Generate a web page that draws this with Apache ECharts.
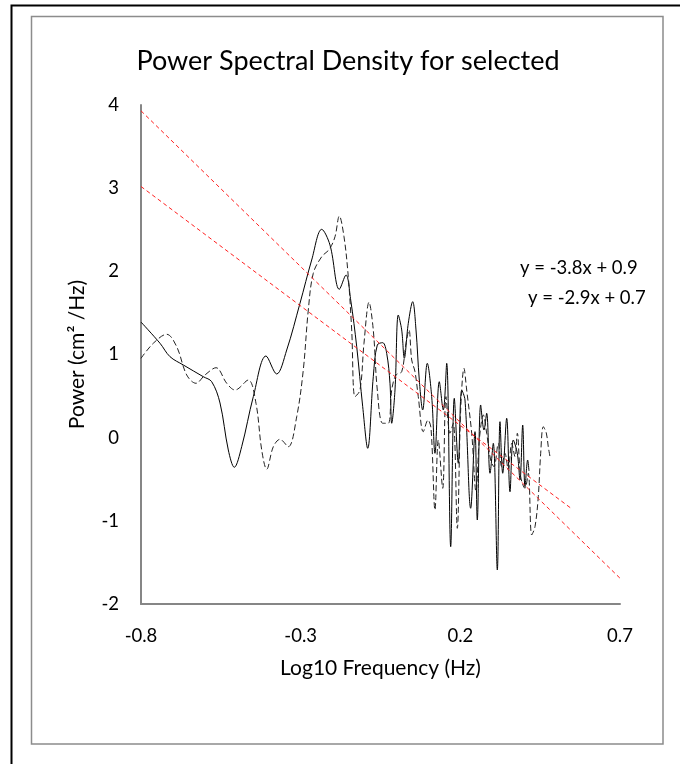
<!DOCTYPE html>
<html>
<head>
<meta charset="utf-8">
<script src="https://cdn.jsdelivr.net/npm/echarts@6/dist/echarts.min.js"></script>
<style>
  html, body { margin: 0; padding: 0; background: #fff; }
  #chart { width: 680px; height: 764px; }
</style>
</head>
<body>
<div id="chart"></div>
<script>
// log10 frequency / power
const solidFreq = [-0.8, -0.7405, -0.7092, -0.6675, -0.6049, -0.5786, -0.5526, -0.5266, -0.5078, -0.4847,
  -0.4483, -0.4086, -0.3751, -0.3437, -0.3021, -0.2655, -0.2341, -0.2082, -0.179, -0.158,
  -0.1433, -0.1245, -0.1057, -0.0901, -0.0726, -0.06, -0.0431, -0.0306, -0.0203, -0.0149,
  -0.0046, 0.0057, 0.0164, 0.0245, 0.037, 0.0508, 0.0612, 0.0715, 0.0821, 0.0965,
  0.1103, 0.1206, 0.1341, 0.1466, 0.1573, 0.1698, 0.1811, 0.1936, 0.2043, 0.2146,
  0.2324, 0.2459, 0.2531, 0.2637, 0.2741, 0.2825, 0.2929, 0.3032, 0.3158, 0.3242,
  0.3327, 0.3452, 0.3555, 0.3658, 0.3784, 0.3868, 0.3953, 0.4025, 0.4109, 0.415];
const solidPower = [1.39, 1.135, 0.974, 0.874, 0.733, 0.673, 0.417, -0.148, -0.356, -0.109,
  0.493, 0.982, 0.766, 1.054, 1.616, 2.136, 2.505, 2.317, 1.784, 1.956,
  1.655, 1.094, 0.372, -0.128, 0.733, 1.114, 1.142, 1.014, 0.654, 0.173,
  0.573, 1.475, 1.295, 0.954, 1.375, 1.635, 1.295, 0.693, 0.333, 0.894,
  0.493, -0.188, 0.673, 0.333, 0.894, -1.311, 0.473, -0.308, 0.573, 0.453,
  -0.849, 0.072, -0.99, 0.393, 0.092, 0.293, -0.428, -0.068, -1.591, 0.192,
  -0.428, 0.233, -0.65, -0.028, -0.188, -0.509, 0.152, -0.59, -0.269, -0.4];

const dashedFreq = [-0.8, -0.7615, -0.7195, -0.6882, -0.6569, -0.6278, -0.5996, -0.5651, -0.5316, -0.5056,
  -0.464, -0.4399, -0.422, -0.4064, -0.3857, -0.3647, -0.3387, -0.3124, -0.2918, -0.2761,
  -0.2605, -0.2341, -0.2103, -0.1925, -0.179, -0.1643, -0.1509, -0.1402, -0.1299, -0.1142,
  -0.1017, -0.086, -0.0726, -0.06, -0.0431, -0.0256, -0.0149, -0.0015, 0.0164, 0.0298,
  0.0392, 0.0477, 0.058, 0.0683, 0.084, 0.0987, 0.1081, 0.1206, 0.131, 0.1448,
  0.1551, 0.1676, 0.178, 0.1905, 0.2011, 0.2115, 0.2199, 0.2356, 0.2491, 0.2594,
  0.2719, 0.2825, 0.2951, 0.3054, 0.3189, 0.3295, 0.3398, 0.3502, 0.3608, 0.3712,
  0.3784, 0.389, 0.4025, 0.4128, 0.4235, 0.4338, 0.4441, 0.4516, 0.4598, 0.4692,
  0.4754, 0.4808];
const dashedPower = [0.954, 1.135, 1.243, 1.094, 0.754, 0.654, 0.754, 0.841, 0.654, 0.573,
  0.693, 0.413, -0.148, -0.38, -0.109, -0.02, -0.109, 0.252, 0.814, 1.535,
  1.976, 2.176, 2.265, 2.416, 2.665, 2.416, 1.936, 1.295, 0.493, 0.573,
  1.135, 1.628, 1.295, 0.573, 0.173, 0.173, 0.573, 0.754, 0.793, 1.135,
  1.295, 0.934, 0.793, 0.493, 0.072, 0.212, 0.116, -0.87, -0.028, -0.609,
  0.493, 0.053, 0.173, -1.09, 0.333, 0.834, 0.573, 0.053, -0.65, -0.028,
  0.273, 0.053, -0.269, -0.349, -0.068, -0.349, -0.188, -0.389, -0.068, -0.229,
  0.053, -0.469, -0.609, -0.428, -1.17, -1.071, -0.71, -0.188, 0.132, 0.056,
  -0.109, -0.229];

// trend line end points
const trendSteep = [[-0.8, 3.93], [0.7, -1.69]];
const trendFlat = [[-0.8, 3.02], [0.547, -0.85]];
const trendLabels = ["y = -3.8x + 0.9", "y = -2.9x + 0.7"];

const xTicks = [-0.8, -0.3, 0.2, 0.7];

const zip = (xs, ys) => xs.map((x, i) => [x, ys[i]]);

const font = "Lato, 'Open Sans', sans-serif";
const axisGray = "#868686";

const chart = echarts.init(document.getElementById("chart"));

chart.setOption({
  animation: false,
  backgroundColor: "#fff",
  title: {
    text: "Power Spectral Density for selected",
    left: 343,
    top: 43,
    textAlign: "center",
    textStyle: { fontFamily: font, fontSize: 27, fontWeight: "normal", color: "#000" },
  },
  graphic: [
    {
      type: "rect",
      shape: { x: 11.5, y: 5.5, width: 720, height: 800 },
      style: { fill: "none", stroke: "#000", lineWidth: 2 },
      silent: true,
    },
    {
      type: "rect",
      shape: { x: 31.5, y: 16.5, width: 631.5, height: 727.5 },
      style: { fill: "none", stroke: "#8c8c8c", lineWidth: 1.5 },
      silent: true,
    },
    {
      type: "text",
      left: 520,
      top: 259,
      style: { text: trendLabels[0], fontFamily: font, fontSize: 18.5, fill: "#000" },
    },
    {
      type: "text",
      left: 528,
      top: 289,
      style: { text: trendLabels[1], fontFamily: font, fontSize: 18.5, fill: "#000" },
    },
  ],
  grid: {
    left: 141,
    top: 105,
    width: 479,
    height: 499,
    containLabel: false,
  },
  xAxis: {
    type: "value",
    min: -0.8,
    max: 0.7,
    name: "Log10 Frequency (Hz)",
    nameLocation: "middle",
    nameGap: 54,
    nameTextStyle: { fontFamily: font, fontSize: 21, color: "#000" },
    axisLine: { onZero: false, lineStyle: { color: axisGray, width: 2 } },
    axisTick: { show: false },
    splitLine: { show: false },
    axisLabel: {
      customValues: xTicks,
      margin: 23,
      fontFamily: font,
      fontSize: 18.5,
      color: "#000",
      formatter: (v) => v.toFixed(1),
    },
  },
  yAxis: {
    type: "value",
    min: -2,
    max: 4,
    interval: 1,
    name: "Power (cm² /Hz)",
    nameLocation: "middle",
    nameGap: 53,
    nameTextStyle: { fontFamily: font, fontSize: 21, color: "#000" },
    axisLine: { show: true, onZero: false, lineStyle: { color: axisGray, width: 2 } },
    axisTick: { show: false },
    splitLine: { show: false },
    axisLabel: { margin: 22, fontFamily: font, fontSize: 18.5, color: "#000" },
  },
  series: [
    {
      name: "solid",
      type: "line",
      data: zip(solidFreq, solidPower),
      smooth: 0.35,
      showSymbol: false,
      lineStyle: { color: "#000", width: 1 },
    },
    {
      name: "dashed",
      type: "line",
      data: zip(dashedFreq, dashedPower),
      smooth: 0.35,
      showSymbol: false,
      lineStyle: { color: "#222", width: 1, type: [6, 3] },
    },
    {
      name: "trendSteep",
      type: "line",
      data: trendSteep,
      showSymbol: false,
      lineStyle: { color: "#ff2020", width: 1, type: [4, 3] },
    },
    {
      name: "trendFlat",
      type: "line",
      data: trendFlat,
      showSymbol: false,
      lineStyle: { color: "#ff2020", width: 1, type: [4, 3] },
    },
  ],
});
</script>
</body>
</html>
